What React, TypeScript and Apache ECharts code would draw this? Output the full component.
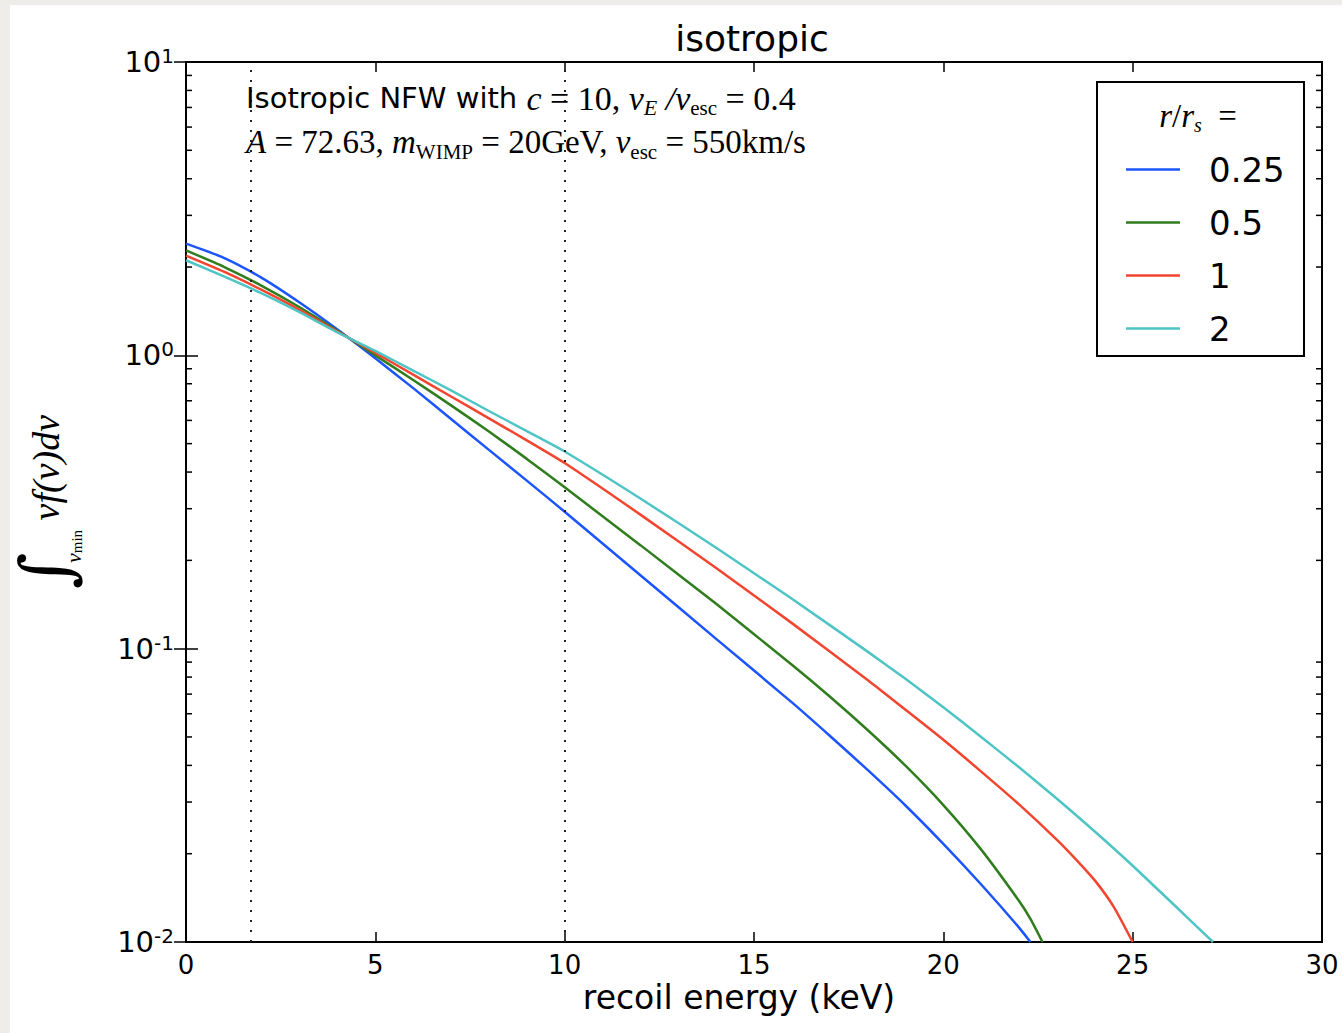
import React, { useEffect, useRef } from 'react';
import * as echarts from 'echarts';

const SERIES_NAMES = ['0.25', '0.5', '1', '2'];
const COLORS = ['#1c55ff', '#2f7d1d', '#f2452f', '#4ec4c4'];

const X_025 = [0, 1, 2, 3, 4, 5, 6, 7, 8, 9, 10, 12, 14, 16, 17, 18, 19, 20, 21, 22, 22.3];
const Y_025 = [2.404, 2.15, 1.837, 1.514, 1.225, 0.977, 0.773, 0.607, 0.476, 0.374, 0.293, 0.178, 0.108, 0.0656, 0.0505, 0.0386, 0.0292, 0.0216, 0.0157, 0.0112, 0.01];

const X_05 = [0, 1, 2, 3, 4, 5, 6, 7, 8, 9, 10, 12, 14, 16, 17, 18, 19, 20, 21, 22, 22.3, 22.62];
const Y_05 = [2.28, 2.004, 1.726, 1.459, 1.213, 1.0, 0.824, 0.675, 0.55, 0.4436, 0.3548, 0.2254, 0.1422, 0.0881, 0.0687, 0.0528, 0.0399, 0.0293, 0.02065, 0.0138, 0.012, 0.01];

const X_1 = [0, 1, 2, 3, 4, 5, 6, 7, 8, 9, 10, 12, 14, 16, 18, 19, 20, 21, 22, 23, 23.5, 24, 24.5, 25];
const Y_1 = [2.188, 1.928, 1.671, 1.429, 1.205, 1.02, 0.859, 0.724, 0.61, 0.513, 0.4295, 0.2864, 0.1884, 0.1222, 0.0782, 0.0619, 0.0489, 0.0381, 0.02944, 0.0223, 0.01914, 0.01622, 0.01318, 0.01];

const X_2 = [0, 1, 2, 3, 4, 5, 6, 7, 8, 9, 10, 12, 14, 16, 18, 19, 20, 21, 22, 23, 24, 25, 26, 27, 27.12];
const Y_2 = [2.109, 1.858, 1.626, 1.403, 1.197, 1.035, 0.887, 0.759, 0.646, 0.552, 0.47, 0.325, 0.2208, 0.1479, 0.0977, 0.0789, 0.0631, 0.05, 0.0394, 0.0308, 0.0238, 0.0182, 0.01374, 0.01035, 0.01];

const XS = [X_025, X_05, X_1, X_2];
const YS = [Y_025, Y_05, Y_1, Y_2];

const VLINES = [1.72, 10];
const X_MIN = 0;
const X_MAX = 30;
const X_INTERVAL = 5;
const Y_MIN = 0.01;
const Y_MAX = 10;
const Y_MINOR = [0.02, 0.03, 0.04, 0.05, 0.06, 0.07, 0.08, 0.09, 0.2, 0.3, 0.4, 0.5, 0.6, 0.7, 0.8, 0.9, 2, 3, 4, 5, 6, 7, 8, 9];

const SANS = 'DejaVu Sans';
const SERIF = 'Liberation Serif';

export default function App() {
  const ref = useRef<HTMLDivElement>(null);
  useEffect(() => {
    if (!ref.current) return;
    const chart = echarts.init(ref.current, null, { renderer: 'svg' });

    const mathRich = (size: number) => ({
      sans: { fontFamily: SANS, fontSize: 29, color: '#000', lineHeight: 40, verticalAlign: 'middle' },
      mi: { fontFamily: SERIF, fontStyle: 'italic', fontSize: size, color: '#000', lineHeight: 40, verticalAlign: 'middle' },
      mr: { fontFamily: SERIF, fontSize: size, color: '#000', lineHeight: 40, verticalAlign: 'middle' },
      subi: { fontFamily: SERIF, fontStyle: 'italic', fontSize: 22, color: '#000', lineHeight: 22, verticalAlign: 'bottom' },
      sub: { fontFamily: SERIF, fontSize: 21, color: '#000', lineHeight: 22, verticalAlign: 'bottom' },
    });

    const lineSeries = SERIES_NAMES.map((name, i) => ({
      name,
      type: 'line',
      xAxisIndex: 0,
      yAxisIndex: 0,
      data: XS[i].map((x, j) => [x, YS[i][j]]),
      showSymbol: false,
      symbol: 'none',
      smooth: 0.2,
      clip: true,
      z: 3,
      color: COLORS[i],
      lineStyle: { color: COLORS[i], width: 2.5 },
      ...(i === 0
        ? {
            markLine: {
              silent: true,
              symbol: ['none', 'none'],
              label: { show: false },
              lineStyle: { color: '#222', type: [2, 8], width: 2 },
              data: VLINES.map((v) => ({ xAxis: v })),
            },
          }
        : {}),
    }));

    const option = {
      animation: false,
      backgroundColor: '#eeede9',
      grid: {
        left: 186,
        top: 62,
        width: 1136,
        height: 880,
        show: true,
        borderColor: '#000',
        borderWidth: 2,
        backgroundColor: '#fff',
        containLabel: false,
      },
      xAxis: [
        {
          type: 'value',
          min: X_MIN,
          max: X_MAX,
          interval: X_INTERVAL,
          position: 'bottom',
          axisLine: { show: true, lineStyle: { color: '#000', width: 2 } },
          axisTick: { show: true, inside: true, length: 10, lineStyle: { color: '#000', width: 1.5 } },
          axisLabel: { margin: 10, fontFamily: SANS, fontSize: 26, color: '#000' },
          splitLine: { show: false },
        },
        {
          type: 'value',
          min: X_MIN,
          max: X_MAX,
          interval: X_INTERVAL,
          position: 'top',
          axisLine: { show: false },
          axisTick: { show: true, inside: true, length: 10, lineStyle: { color: '#000', width: 1.5 } },
          axisLabel: { show: false },
          splitLine: { show: false },
        },
      ],
      yAxis: [
        {
          type: 'log',
          logBase: 10,
          min: Y_MIN,
          max: Y_MAX,
          position: 'left',
          axisLine: { show: true, lineStyle: { color: '#000', width: 2 } },
          axisTick: { show: true, inside: true, length: 12, lineStyle: { color: '#000', width: 1.5 } },
          axisLabel: {
            margin: 12,
            formatter: (v: number) => `{b|10}{e|${Math.round(Math.log10(v))}}`,
            rich: {
              b: { fontFamily: SANS, fontSize: 29, color: '#000', lineHeight: 32, verticalAlign: 'middle' },
              e: { fontFamily: SANS, fontSize: 20, color: '#000', lineHeight: 14, verticalAlign: 'top' },
            },
          },
          splitLine: { show: false },
          minorTick: { show: false },
        },
        {
          type: 'log',
          logBase: 10,
          min: Y_MIN,
          max: Y_MAX,
          position: 'right',
          axisLine: { show: false },
          axisTick: { show: true, inside: true, length: 12, lineStyle: { color: '#000', width: 1.5 } },
          axisLabel: { show: false },
          splitLine: { show: false },
        },
      ],
      legend: {
        data: SERIES_NAMES,
        orient: 'vertical',
        left: 1121,
        top: 138,
        icon: 'rect',
        itemWidth: 54,
        itemHeight: 2.5,
        itemGap: 0,
        z: 10,
        textStyle: { fontFamily: SANS, fontSize: 34, color: '#000', lineHeight: 53, padding: [0, 0, 0, 24] },
      },
      graphic: [
        { type: 'rect', z: -100, silent: true, shape: { x: 10, y: 5, width: 1332, height: 1028 }, style: { fill: '#fff' } },
        { type: 'rect', z: 5, silent: true, shape: { x: 1097, y: 82, width: 207, height: 274 }, style: { fill: '#fff', stroke: '#000', lineWidth: 2 } },
        {
          type: 'text', z: 11, silent: true, x: 1198, y: 116,
          style: {
            text: '{i|r}{r|/}{i|r}{s|s}{r|  =}',
            align: 'center', verticalAlign: 'middle',
            rich: {
              i: { fontFamily: SERIF, fontStyle: 'italic', fontSize: 33, color: '#222', lineHeight: 38, verticalAlign: 'middle' },
              r: { fontFamily: SERIF, fontSize: 33, color: '#222', lineHeight: 38, verticalAlign: 'middle' },
              s: { fontFamily: SERIF, fontStyle: 'italic', fontSize: 20, color: '#222', lineHeight: 18, verticalAlign: 'bottom' },
            },
          },
        },
        {
          type: 'text', z: 11, silent: true, x: 752, y: 38,
          style: { text: 'isotropic', align: 'center', verticalAlign: 'middle', fontFamily: SANS, fontSize: 36, fill: '#000' },
        },
        {
          type: 'text', z: 11, silent: true, x: 739, y: 997,
          style: { text: 'recoil energy (keV)', align: 'center', verticalAlign: 'middle', fontFamily: SANS, fontSize: 33, fill: '#000' },
        },
        {
          type: 'text', z: 11, silent: true, x: 246, y: 98,
          style: {
            text: '{sans|Isotropic NFW with }{mi|c}{mr| = 10, }{mi|v}{subi|E}{mi| /v}{sub|esc}{mr| = 0.4}',
            align: 'left', verticalAlign: 'middle', rich: mathRich(34),
          },
        },
        {
          type: 'text', z: 11, silent: true, x: 246, y: 142,
          style: {
            text: '{mi|A}{mr| = 72.63, }{mi|m}{sub|WIMP}{mr| = 20GeV, }{mi|v}{sub|esc}{mr| = 550km/s}',
            align: 'left', verticalAlign: 'middle', rich: mathRich(33),
          },
        },
        {
          type: 'text', z: 11, silent: true, x: 46, y: 497, rotation: Math.PI / 2,
          style: {
            text: '{int|\u222B}{sub|v}{subsub|min}{m| vf(v)dv}',
            align: 'center', verticalAlign: 'middle',
            rich: {
              int: { fontFamily: 'DejaVu Serif', fontStyle: 'italic', fontSize: 70, color: '#000', lineHeight: 76, verticalAlign: 'middle', width: 16 },
              sub: { fontFamily: SERIF, fontStyle: 'italic', fontSize: 22, color: '#000', lineHeight: 22, verticalAlign: 'bottom' },
              subsub: { fontFamily: SERIF, fontSize: 15, color: '#000', lineHeight: 16, verticalAlign: 'bottom' },
              m: { fontFamily: SERIF, fontStyle: 'italic', fontSize: 38, color: '#000', lineHeight: 76, verticalAlign: 'middle' },
            },
          },
        },
      ],
      series: [
        ...lineSeries,
        {
          type: 'custom',
          xAxisIndex: 0,
          yAxisIndex: 0,
          silent: true,
          z: 4,
          data: Y_MINOR.map((v) => [X_MIN, v]),
          encode: { x: 0, y: 1 },
          renderItem: (params: any, api: any) => {
            const cs = params.coordSys;
            const p = api.coord([X_MIN, api.value(1)]);
            const y = p[1];
            const st = { stroke: '#000', lineWidth: 1.5 };
            return {
              type: 'group',
              children: [
                { type: 'line', shape: { x1: cs.x, y1: y, x2: cs.x + 6, y2: y }, style: st },
                { type: 'line', shape: { x1: cs.x + cs.width - 6, y1: y, x2: cs.x + cs.width, y2: y }, style: st },
              ],
            };
          },
        },
      ],
    };

    chart.setOption(option as any);
    return () => chart.dispose();
  }, []);

  return <div ref={ref} style={{ position: 'fixed', left: 0, top: 0, width: 1342, height: 1033 }} />;
}
